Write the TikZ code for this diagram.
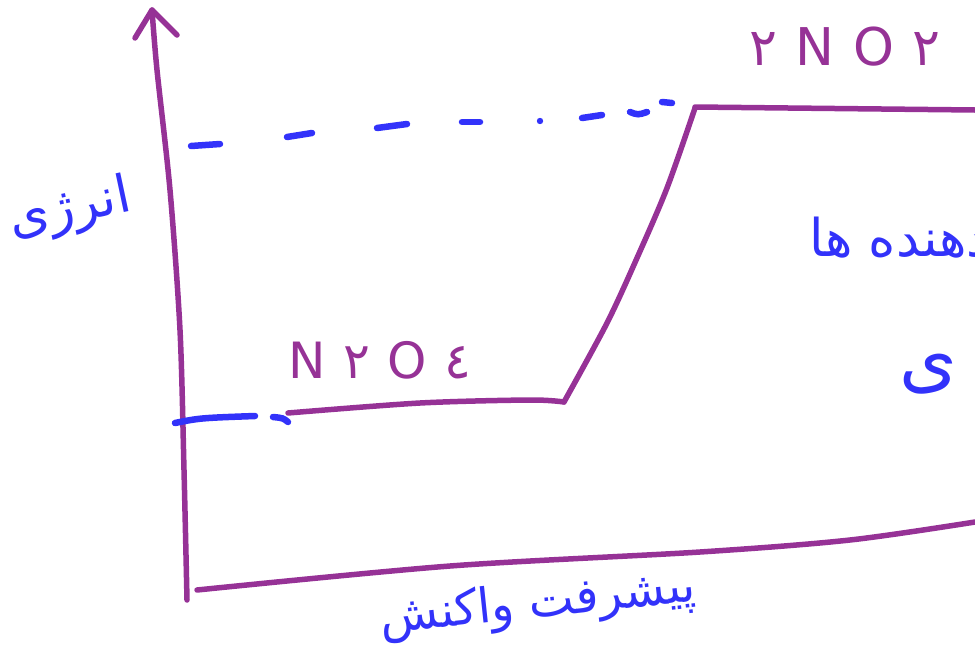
\documentclass[tikz,border=0pt]{standalone}
\usepackage{fontspec}
\TeXXeTstate=1
\newfontfamily\arabicfont[Script=Arabic]{DejaVu Sans}
\newfontfamily\chemfont[LetterSpace=35]{DejaVu Sans}
\definecolor{pur}{RGB}{150,50,150}
\definecolor{blu}{RGB}{50,50,250}
\tikzset{
  purline/.style={draw=pur, line width=5.5pt, line cap=round, line join=round},
  bluline/.style={draw=blu, line width=6.5pt, line cap=round},
  bluetext/.style={text=blu, font=\arabicfont, inner sep=0pt},
  chemtext/.style={text=pur, font=\chemfont, inner sep=0pt}
}
\begin{document}
\begin{tikzpicture}[x=1pt,y=-1pt]
\useasboundingbox (0,0) rectangle (975,646);
\clip (0,0) rectangle (975,646);
% axes
\coordinate (ytop) at (152,10);
\coordinate (yl) at (135,38);
\coordinate (yr) at (177,35);
\draw[purline] plot[smooth] coordinates {(187,600) (184,470) (180,330) (170,190) (157,70) (ytop)};
\draw[purline] (yl) -- (ytop) -- (yr);
\draw[purline] plot[smooth] coordinates {(197,590) (450,566) (700,552) (850,540) (975,522)};
% energy profile
\draw[purline] plot[smooth] coordinates {(288,413) (420,403) (530,400) (564,402)};
\draw[purline] plot[smooth] coordinates {(564,402) (607,323) (637,258) (667,188) (695,108)};
\draw[purline] (695,107) -- (975,110);
% blue dashes top
\draw[bluline] (191,146) -- (220,144);
\draw[bluline] (287,137) -- (312,133);
\draw[bluline] (377,128) -- (407,124);
\draw[bluline] (462,122) -- (480,122);
\fill[blu] (540,121) circle (3.2pt);
\draw[bluline] (582,118) -- (602,115);
\draw[bluline] (630,112) .. controls (638,115) .. (647,112);
\draw[bluline] (662,102) -- (672,103);
% blue dashes bottom
\draw[bluline] (175,423) .. controls (200,418) .. (255,416);
\draw[bluline] (273,417) .. controls (283,418) .. (288,422);
% labels
\node[bluetext, font=\arabicfont\fontsize{52}{58}\selectfont, rotate=12] (energy) at (70,210) {\beginR انرژی\endR};
\node[bluetext, font=\arabicfont\fontsize{48}{54}\selectfont, rotate=6] (progress) at (538,605) {\beginR پیشرفت واکنش\endR};
\node[bluetext, font=\arabicfont\fontsize{52}{58}\selectfont, anchor=east] (react) at (990,238) {\beginR دهنده ها\endR};
\node[bluetext, font=\arabicfont\fontsize{74}{80}\selectfont] (yeh) at (928,374) {\beginR ی\endR};
\node[chemtext, font=\chemfont\fontsize{50}{56}\selectfont] (n2o4) at (380,360) {N۲O٤};
\node[chemtext, font=\chemfont\fontsize{52}{58}\selectfont] (no2) at (845,47) {۲NO۲};
\end{tikzpicture}
\end{document}
